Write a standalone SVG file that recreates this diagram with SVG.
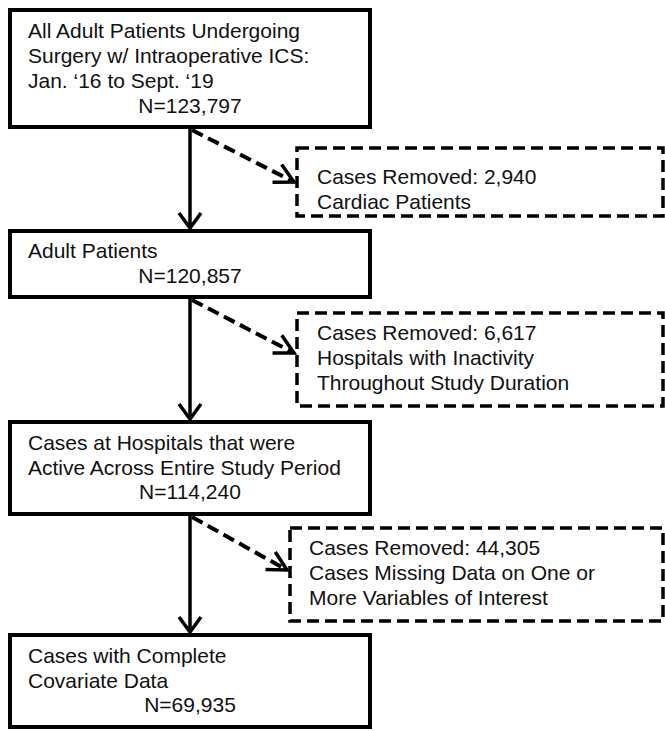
<svg xmlns="http://www.w3.org/2000/svg" width="665" height="731" viewBox="0 0 665 731">
<style>
.box{fill:#fff;stroke:#000;stroke-width:4}
.dbox{fill:#fff;stroke:#000;stroke-width:3.5;stroke-dasharray:12 6}
.t{font-family:"Liberation Sans",Arial,sans-serif;font-size:21px;fill:#111}
.m{text-anchor:middle}
.solid{stroke:#000;stroke-width:3.5;fill:none}
.dash{stroke:#000;stroke-width:4;fill:none;stroke-dasharray:12 6}
</style>
<defs>
<marker id="ah" markerUnits="userSpaceOnUse" viewBox="-20 -14 24 28" refX="0" refY="0" markerWidth="24" markerHeight="28" orient="auto" overflow="visible">
<path d="M-15,-11 L0,0 L-15,11" fill="none" stroke="#000" stroke-width="3.5"/>
</marker>
<marker id="ahd" markerUnits="userSpaceOnUse" viewBox="-20 -14 24 28" refX="0" refY="0" markerWidth="24" markerHeight="28" orient="auto" overflow="visible">
<path d="M-19,-10 L0,0 L-19,10" fill="none" stroke="#000" stroke-width="3.5"/>
</marker>
</defs>
<g id="connectors">
<line class="solid" x1="190" y1="128" x2="190" y2="228" marker-end="url(#ah)"/>
<line class="solid" x1="190" y1="298" x2="190" y2="419" marker-end="url(#ah)"/>
<line class="solid" x1="190" y1="515" x2="190" y2="632" marker-end="url(#ah)"/>
<line class="dash" x1="192" y1="130" x2="294" y2="182" marker-end="url(#ahd)"/>
<line class="dash" x1="192" y1="300" x2="294" y2="353" marker-end="url(#ahd)"/>
<line class="dash" x1="192" y1="517" x2="287" y2="570" marker-end="url(#ahd)"/>
</g>
<g id="n1">
<rect class="box" x="10" y="10" width="360" height="117"/>
<text class="t" x="28" y="38">All Adult Patients Undergoing</text>
<text class="t" x="28" y="63">Surgery w/ Intraoperative ICS:</text>
<text class="t" x="28" y="88">Jan. ‘16 to Sept. ‘19</text>
<text class="t m" x="190" y="113">N=123,797</text>
</g>
<g id="r1">
<rect class="dbox" x="297" y="148" width="366" height="68"/>
<text class="t" x="317" y="184">Cases Removed: 2,940</text>
<text class="t" x="317" y="209">Cardiac Patients</text>
</g>
<g id="n2">
<rect class="box" x="10" y="231" width="360" height="66"/>
<text class="t" x="28" y="258">Adult Patients</text>
<text class="t m" x="190" y="283">N=120,857</text>
</g>
<g id="r2">
<rect class="dbox" x="297" y="313" width="366" height="93"/>
<text class="t" x="317" y="340">Cases Removed: 6,617</text>
<text class="t" x="317" y="365">Hospitals with Inactivity</text>
<text class="t" x="317" y="390">Throughout Study Duration</text>
</g>
<g id="n3">
<rect class="box" x="10" y="422" width="360" height="92"/>
<text class="t" x="28" y="450">Cases at Hospitals that were</text>
<text class="t" x="28" y="475">Active Across Entire Study Period</text>
<text class="t m" x="190" y="499">N=114,240</text>
</g>
<g id="r3">
<rect class="dbox" x="290" y="528" width="373" height="93"/>
<text class="t" x="309" y="555">Cases Removed: 44,305</text>
<text class="t" x="309" y="580">Cases Missing Data on One or</text>
<text class="t" x="309" y="605">More Variables of Interest</text>
</g>
<g id="n4">
<rect class="box" x="10" y="635" width="360" height="92"/>
<text class="t" x="28" y="663">Cases with Complete</text>
<text class="t" x="28" y="688">Covariate Data</text>
<text class="t m" x="190" y="712">N=69,935</text>
</g>
</svg>
